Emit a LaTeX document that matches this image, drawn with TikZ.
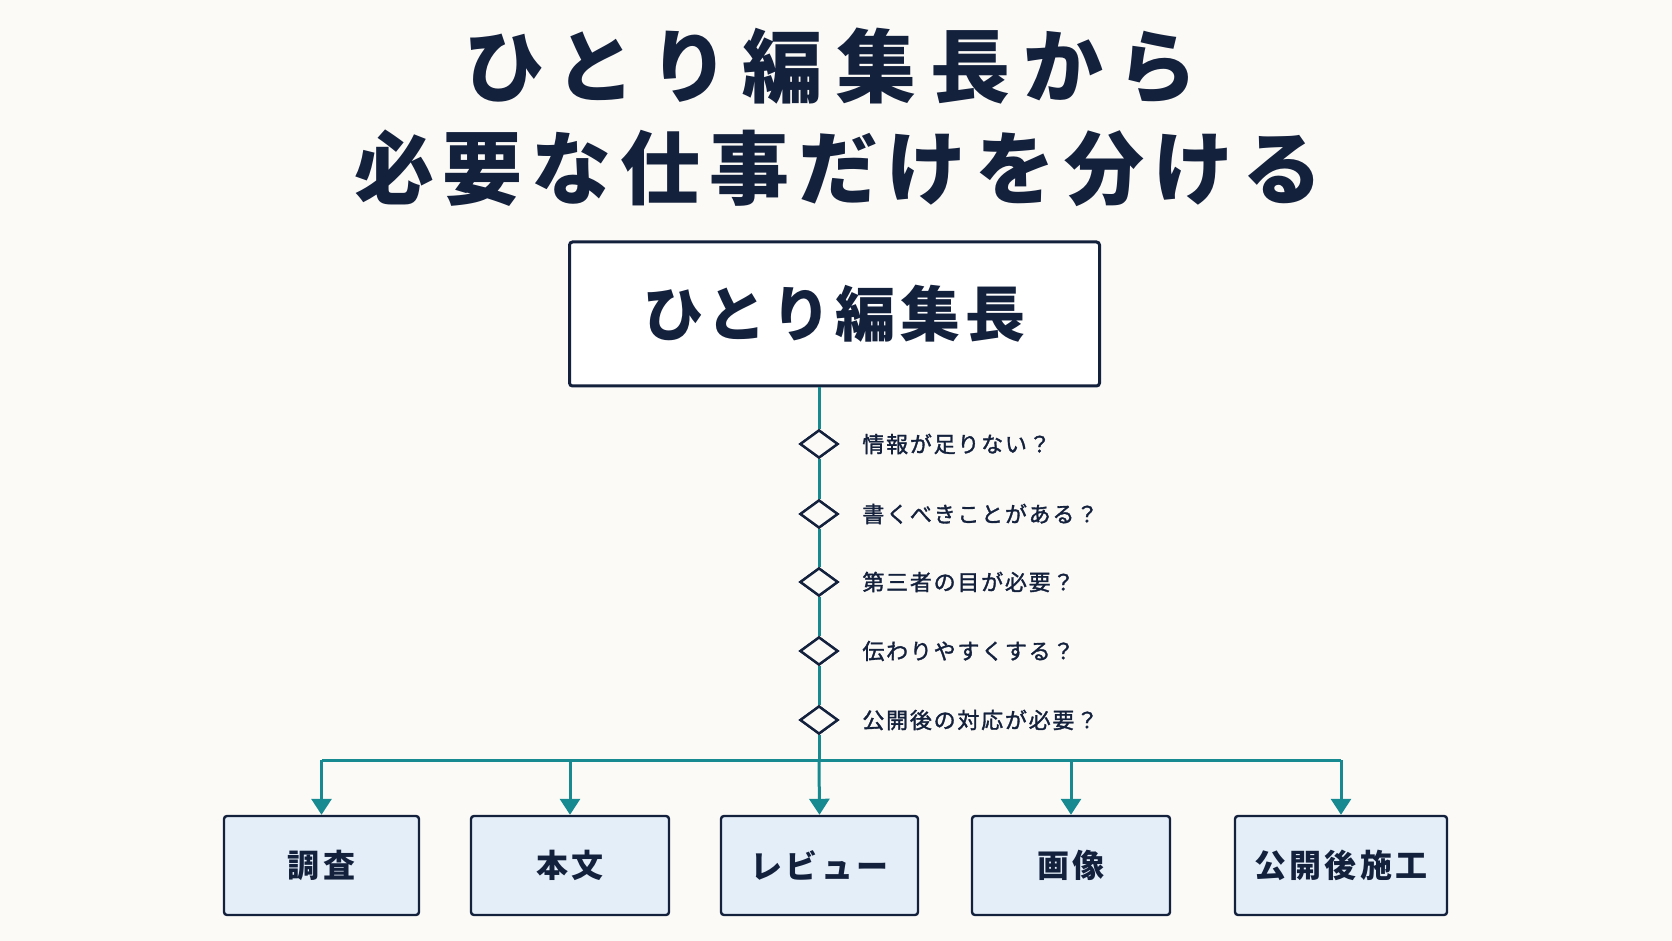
\documentclass[tikz,border=0pt]{standalone}
\usepackage{fontspec}
\usetikzlibrary{shapes.geometric,arrows.meta}
\newfontfamily\titlefont[LetterSpace=17]{Noto Sans CJK JP}
\newfontfamily\subtitlefont[LetterSpace=11]{Noto Sans CJK JP}
\newfontfamily\headfont[LetterSpace=8]{Noto Sans CJK JP}
\newfontfamily\askfont[LetterSpace=8,FakeBold=1.5]{Noto Sans CJK JP}
\newfontfamily\taskfont[LetterSpace=10]{Noto Sans CJK JP}
\definecolor{navy}{HTML}{14213D}
\definecolor{teal}{HTML}{178A91}
\definecolor{paper}{HTML}{FBFAF7}
\definecolor{taskfill}{HTML}{E4EEF8}
\tikzset{
  chiefbox/.style={draw=navy,line width=1.5pt,rounded corners=1.5pt,fill=white,
    minimum width=265pt,minimum height=72pt,inner sep=0pt,
    font=\headfont\bfseries\fontsize{30}{36}\selectfont,text=navy},
  askmark/.style={diamond,draw=navy,line width=1.2pt,fill=paper,
    minimum width=19pt,minimum height=14pt,inner sep=0pt},
  asktext/.style={anchor=west,inner sep=0pt,font=\askfont\fontsize{11}{13}\selectfont,text=navy},
  taskbox/.style={draw=navy,line width=1.2pt,rounded corners=1.5pt,fill=taskfill,
    minimum width=98.5pt,minimum height=49.5pt,inner sep=0pt,
    font=\taskfont\bfseries\fontsize{16}{19}\selectfont,text=navy},
  flow/.style={draw=teal,line width=1.5pt},
  flowarrow/.style={flow,-{Triangle[width=10pt,length=8pt]}}
}
\begin{document}
\begin{tikzpicture}[x=0.5pt,y=-0.5pt]
\fill[paper] (0,0) rectangle (1672,941);
\useasboundingbox (0,0) rectangle (1672,941);

% title
\node[font=\titlefont\bfseries\fontsize{40}{48}\selectfont,text=navy] (title1) at (831,66) {ひとり編集長から};
\node[font=\subtitlefont\bfseries\fontsize{40}{48}\selectfont,text=navy] (title2) at (838,168) {必要な仕事だけを分ける};

\node[chiefbox] (chief) at (834.5,314) {ひとり編集長};

% questions
\node[askmark] (q1) at (819,444) {};
\node[askmark] (q2) at (819,514) {};
\node[askmark] (q3) at (819,582) {};
\node[askmark] (q4) at (819,651) {};
\node[askmark] (q5) at (819,720) {};

\node[asktext] (a1) at (862,444) {情報が足りない？};
\node[asktext] (a2) at (862,514) {書くべきことがある？};
\node[asktext] (a3) at (862,582) {第三者の目が必要？};
\node[asktext] (a4) at (862,651) {伝わりやすくする？};
\node[asktext] (a5) at (862,720) {公開後の対応が必要？};

% tasks
\node[taskbox,minimum width=97.5pt] (t1) at (321.5,865.5) {調査};
\node[taskbox,minimum width=99pt] (t2) at (570,865.5) {本文};
\node[taskbox] (t3) at (819.5,865.5) {レビュー};
\node[taskbox,minimum width=99pt] (t4) at (1071,865.5) {画像};
\node[taskbox,minimum width=106pt] (t5) at (1341,865.5) {公開後施工};

\coordinate (split) at (819,760);

\draw[flow] (chief.south -| split) -- (q1) -- (q2) -- (q3) -- (q4) -- (q5) -- (split);
\draw[flow] (split -| t1) -- (split -| t5);
\draw[flowarrow] (split -| t1) -- (t1.north);
\draw[flowarrow] (split -| t2) -- (t2.north);
\draw[flowarrow] (split) -- (t3.north);
\draw[flowarrow] (split -| t4) -- (t4.north);
\draw[flowarrow] (split -| t5) -- (t5.north);

% redraw marks over the line
\node[askmark] at (q1) {};
\node[askmark] at (q2) {};
\node[askmark] at (q3) {};
\node[askmark] at (q4) {};
\node[askmark] at (q5) {};
\end{tikzpicture}
\end{document}
